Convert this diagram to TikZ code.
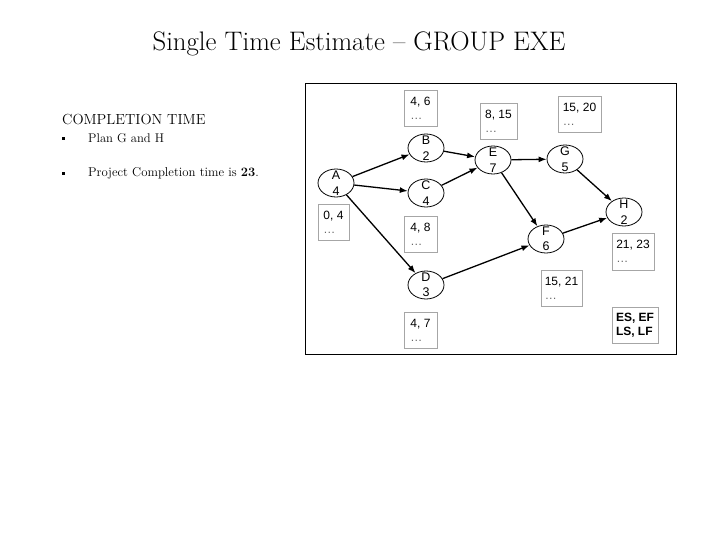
\documentclass[tikz,border=0pt]{standalone}
\usepackage{fontspec}
\newfontfamily\arialf{Liberation Sans}
\usetikzlibrary{shapes.geometric,arrows.meta}
\begin{document}
\begin{tikzpicture}[x=1pt,y=-1pt,
 act/.style={draw, ellipse, minimum width=36pt, minimum height=28pt, inner sep=0pt, line width=0.8pt},
 lbl/.style={font=\arialf\fontsize{12.5}{15.5}\selectfont, align=center, inner sep=0pt},
 tbox/.style={draw=black!35, line width=0.8pt, minimum width=33pt, minimum height=36pt, align=left, font=\arialf\fontsize{12}{15}\selectfont, inner sep=0pt},
 conn/.style={line width=1.3pt, -{Latex[length=8pt,width=6pt]}},
 dots/.style={text=black!60}
]
\useasboundingbox (0,0) rectangle (720,540);
% title
\node[anchor=base, font=\fontsize{26.8}{30}\selectfont, inner sep=0pt] (title) at (359,51) {Single Time Estimate -- GROUP EXE};
% left text
\node[anchor=base west, font=\fontsize{14.6}{17}\selectfont, inner sep=0pt] (ct) at (62,125) {COMPLETION TIME};
\node[fill, minimum size=3pt, inner sep=0pt] (b1) at (63,139) {};
\node[fill, minimum size=3pt, inner sep=0pt] (b2) at (63,174) {};
\node[anchor=base west, font=\fontsize{12.6}{15}\selectfont, inner sep=0pt] (p1) at (88,143) {Plan G and H};
\node[anchor=base west, font=\fontsize{12.8}{15}\selectfont, inner sep=0pt] (p2) at (88,177) {Project Completion time is \textbf{23}.};
% frame
\draw[line width=1pt] (305,84) rectangle (676,354);
% activities
\node[act] (A) at (336,183) {};
\node[act] (B) at (426,148) {};
\node[act] (C) at (426,193) {};
\node[act] (D) at (426,285) {};
\node[act] (E) at (493,160) {};
\node[act] (G) at (565,159) {};
\node[act] (F) at (546,239) {};
\node[act] (H) at (624,212) {};
\node[lbl] (At) at (A) {A\\4};
\node[lbl] (Bt) at (B) {B\\2};
\node[lbl] (Ct) at (C) {C\\4};
\node[lbl] (Dt) at (D) {D\\3};
\node[lbl] (Et) at (E) {E\\7};
\node[lbl] (Gt) at (G) {G\\5};
\node[lbl] (Ft) at (F) {F\\6};
\node[lbl] (Ht) at (H) {H\\2};
% time boxes
\node[tbox] (tB) at (420.5,108) {4, 6\\[-1pt]\textcolor{black!60}{…}};
\node[tbox, minimum width=37pt] (tE) at (498.5,121.5) {8, 15\\[-1pt]\textcolor{black!60}{…}};
\node[tbox, minimum width=43pt] (tG) at (579.5,114) {15, 20\\[-1pt]\textcolor{black!60}{…}};
\node[tbox, minimum width=31pt] (tA) at (333.5,222) {0, 4\\[-1pt]\textcolor{black!60}{…}};
\node[tbox] (tC) at (420.5,234) {4, 8\\[-1pt]\textcolor{black!60}{…}};
\node[tbox] (tD) at (420.5,330) {4, 7\\[-1pt]\textcolor{black!60}{…}};
\node[tbox, minimum width=41pt] (tF) at (561.5,288) {15, 21\\[-1pt]\textcolor{black!60}{…}};
\node[tbox, minimum width=42pt, minimum height=37pt] (tH) at (633,251.5) {21, 23\\[-1pt]\textcolor{black!60}{…}};
\node[tbox, minimum width=46pt, font=\arialf\bfseries\fontsize{12}{14}\selectfont] (key) at (635,325) {ES, EF\\LS, LF};
% connectors
\draw[conn] (A) -- (B);
\draw[conn] (A) -- (C);
\draw[conn] (A) -- (D);
\draw[conn] (B) -- (E);
\draw[conn] (C) -- (E);
\draw[conn] (E) -- (G);
\draw[conn] (E) -- (F);
\draw[conn] (D) -- (F);
\draw[conn] (G) -- (H);
\draw[conn] (F) -- (H);
\end{tikzpicture}
\end{document}
